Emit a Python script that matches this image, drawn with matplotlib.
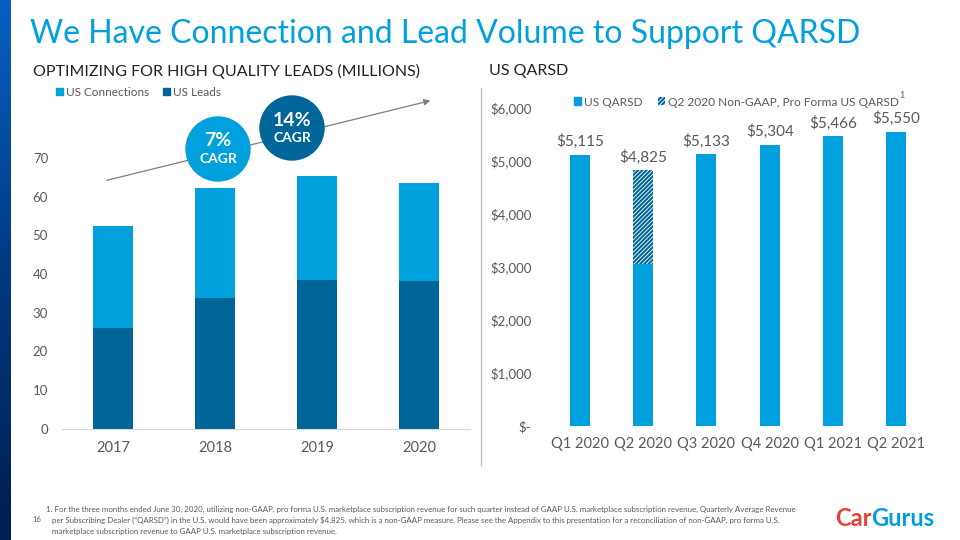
import matplotlib
matplotlib.use("Agg")
import matplotlib.pyplot as plt
import numpy as np
from matplotlib.patches import Patch, Circle
from matplotlib.colors import LinearSegmentedColormap

plt.rcParams['font.family'] = ['Lato', 'DejaVu Sans']
plt.rcParams['hatch.linewidth'] = 1.5

# datos - grafico izquierdo (millones)
years = ["2017", "2018", "2019", "2020"]
us_leads = [26.1, 33.8, 38.5, 38.2]
us_connections = [26.3, 28.5, 26.9, 25.3]
left_ticks = [0, 10, 20, 30, 40, 50, 60, 70]

# datos - grafico derecho (US QARSD)
quarters = ["Q1 2020", "Q2 2020", "Q3 2020", "Q4 2020", "Q1 2021", "Q2 2021"]
qarsd = [5115, 3050, 5133, 5304, 5466, 5550]
proforma_q2 = 4825
right_ticks = [0, 1000, 2000, 3000, 4000, 5000, 6000]
right_ticklabels = ["$-", "$1,000", "$2,000", "$3,000", "$4,000", "$5,000", "$6,000"]
bar_labels = [5115, 4825, 5133, 5304, 5466, 5550]

light = "#00a0dc"
dark = "#006699"
gray = "#595959"

fig = plt.figure(figsize=(9.6, 5.4), dpi=100)

# ---- grafico izquierdo
ax1 = fig.add_axes([62/960, 1-429/540, 408/960, 310/540])
x = np.arange(len(years))
ax1.bar(x, us_leads, width=0.4, color=dark)
ax1.bar(x, us_connections, width=0.4, bottom=us_leads, color=light)
ax1.set_xlim(-0.5, 3.5)
ax1.set_ylim(0, 80)
ax1.set_yticks(left_ticks)
ax1.set_xticks(x)
ax1.set_xticklabels(years)
for s in ["top", "right", "left"]:
    ax1.spines[s].set_visible(False)
ax1.spines["bottom"].set_color("#d9d9d9")
ax1.tick_params(axis="both", length=0, colors=gray)
ax1.tick_params(axis="y", labelsize=9.5, pad=10)
ax1.tick_params(axis="x", labelsize=10.5, pad=9)

# ---- grafico derecho
ax2 = fig.add_axes([548/960, 1-426/540, 380/960, 344.5/540])
x2 = np.arange(len(quarters))
ax2.bar(x2, qarsd, width=0.32, color=light)
ax2.bar(x2[1], proforma_q2 - qarsd[1], width=0.32, bottom=qarsd[1],
        facecolor="white", edgecolor=dark, hatch="////////", lw=0)
tops = [max(q, b) for q, b in zip(qarsd, bar_labels)]
for xi, t, v in zip(x2, tops, bar_labels):
    ax2.annotate("${:,}".format(v), (xi, t), xytext=(0, 4), textcoords="offset points",
                 ha="center", va="bottom", fontsize=11, color=gray)
ax2.set_xlim(-0.5, 5.5)
ax2.set_ylim(0, 6500)
ax2.set_yticks(right_ticks)
ax2.set_yticklabels(right_ticklabels)
ax2.set_xticks(x2)
ax2.set_xticklabels(quarters)
for s in ax2.spines.values():
    s.set_visible(False)
ax2.tick_params(axis="both", length=0, colors=gray)
ax2.tick_params(axis="y", labelsize=9.5, pad=12)
ax2.tick_params(axis="x", labelsize=10.5, pad=8)

# ---- leyendas
fig.legend([Patch(color=light), Patch(color=dark)], ["US Connections", "US Leads"],
           loc="center left", bbox_to_anchor=(50/960, 1-92/540), ncol=2, frameon=False,
           fontsize=8.5, handlelength=0.6, handleheight=0.6, handletextpad=0.25,
           columnspacing=1.2, borderpad=0, labelcolor=gray)
fig.legend([Patch(color=light), Patch(facecolor="white", edgecolor=dark, hatch="////////", lw=0)],
           ["US QARSD", "Q2 2020 Non-GAAP, Pro Forma US QARSD"],
           loc="center left", bbox_to_anchor=(568/960, 1-102/540), ncol=2, frameon=False,
           fontsize=8.6, handlelength=0.6, handleheight=0.6, handletextpad=0.25,
           columnspacing=1.3, borderpad=0, labelcolor=gray)

# ---- capa de decoracion (pixeles)
ov = fig.add_axes([0, 0, 1, 1], zorder=5)
ov.set_xlim(0, 960)
ov.set_ylim(540, 0)
ov.axis("off")
ov.patch.set_alpha(0)

grad = np.linspace(0, 1, 256).reshape(-1, 1)
cmap = LinearSegmentedColormap.from_list("g", ["#0a5fc4", "#003a80", "#001e4e"])
ov.imshow(grad, cmap=cmap, extent=[0, 11, 540, 0], aspect="auto")

ov.plot([481, 481], [88, 465], color="#bfbfbf", lw=1)
ov.annotate("", xy=(433, 100), xytext=(104, 181),
            arrowprops=dict(arrowstyle="-|>", color="#7f7f7f", lw=0.9, mutation_scale=9))
ov.add_patch(Circle((218, 149), 32, color=light, zorder=3))
ov.add_patch(Circle((292, 128), 32, color=dark, zorder=3))
ov.text(218, 141, "7%", ha="center", va="center", color="white", fontsize=14, fontweight="bold", zorder=4)
ov.text(218, 159, "CAGR", ha="center", va="center", color="white", fontsize=10, fontweight="bold", zorder=4)
ov.text(292, 120, "14%", ha="center", va="center", color="white", fontsize=14, fontweight="bold", zorder=4)
ov.text(292, 138, "CAGR", ha="center", va="center", color="white", fontsize=10, fontweight="bold", zorder=4)

ov.text(899, 96, "1", ha="left", va="center", color=gray, fontsize=6.5)

# ---- textos
fig.text(30/960, 1-34/540, "We Have Connection and Lead Volume to Support QARSD",
         ha="left", va="center", color="#00a0df", fontsize=23)
fig.text(33/960, 1-71/540, "OPTIMIZING FOR HIGH QUALITY LEADS (MILLIONS)",
         ha="left", va="center", color="#222222", fontsize=11.5)
fig.text(489/960, 1-71/540, "US QARSD", ha="left", va="center", color="#222222", fontsize=11.5)

fig.text(32/960, 1-519/540, "16", ha="left", va="center", color=gray, fontsize=5.5)
foot = ["1. For the three months ended June 30, 2020, utilizing non-GAAP, pro forma U.S. marketplace subscription revenue for such quarter instead of GAAP U.S. marketplace subscription revenue, Quarterly Average Revenue",
        "per Subscribing Dealer (\u201cQARSD\u201d) in the U.S. would have been approximately $4,825, which is a non-GAAP measure. Please see the Appendix to this presentation for a reconciliation of non-GAAP, pro forma U.S.",
        "marketplace subscription revenue to GAAP U.S. marketplace subscription revenue."]
fig.text(46/960, 1-509/540, foot[0], ha="left", va="center", color=gray, fontsize=5.7)
fig.text(52/960, 1-520.5/540, foot[1], ha="left", va="center", color=gray, fontsize=5.7)
fig.text(52/960, 1-531.5/540, foot[2], ha="left", va="center", color=gray, fontsize=5.7)

# logo como texto
car = ov.text(835, 518, "Car", ha="left", va="center", color="#e8413c",
              fontsize=17, fontweight="bold")
ov.annotate("Gurus", xy=(1, 0.5), xycoords=car, ha="left", va="center", color=light,
            fontsize=17, fontweight="bold")

fig.savefig("out.png", dpi=100)
